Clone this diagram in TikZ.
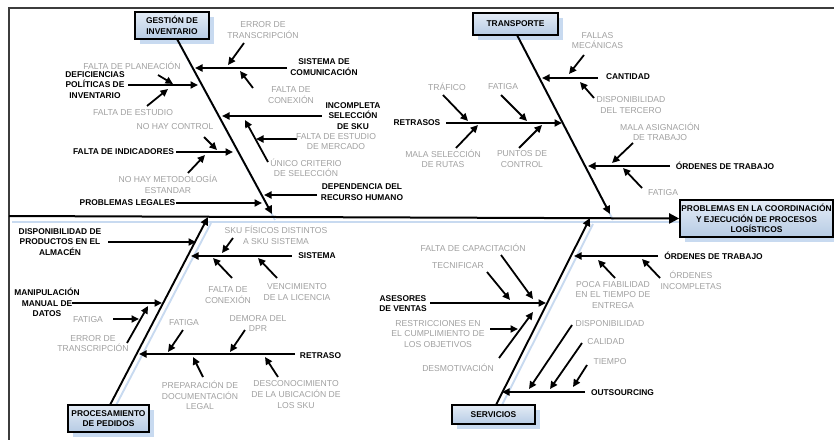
\documentclass[tikz,border=0pt]{standalone}
\usepackage{fontspec}
\setmainfont{Liberation Sans}
\usetikzlibrary{arrows.meta,calc,shadows}
\definecolor{txtgray}{RGB}{160,160,160}
\definecolor{shblue}{RGB}{200,218,240}
\definecolor{boxtop}{RGB}{228,236,246}
\definecolor{boxbot}{RGB}{182,203,228}
\definecolor{framegray}{RGB}{60,60,60}
\begin{document}
\begin{tikzpicture}[x=1pt,y=-1pt,
  lab/.style={inner sep=0pt, align=center, font=\fontsize{8.6}{10.6}\selectfont},
  blk/.style={lab, font=\fontsize{8.4}{10.6}\selectfont\bfseries},
  gry/.style={lab, text=txtgray},
  catbox/.style={draw=black, line width=1.6pt, top color=boxtop, bottom color=boxbot,
    inner sep=0pt, align=center, font=\fontsize{8.4}{10.6}\selectfont\bfseries,
    drop shadow={shadow xshift=5pt, shadow yshift=-5pt, fill=shblue, opacity=1}},
  bone/.style={line width=1.9pt, -{Triangle[length=8pt,width=7.5pt]}},
  spinearrow/.style={line width=2pt, -{Triangle[length=10pt,width=10pt]}},
  sub/.style={line width=1.8pt, -{Triangle[length=7.5pt,width=7pt]}},
  shline/.style={line width=1.9pt, draw=shblue}
]
\useasboundingbox (0,0) rectangle (834,439);
\clip (0,0) rectangle (834,439);

% frame
\draw[framegray, line width=1.3pt] (9,445) -- (9,8) -- (845,8);

% main coordinates
\coordinate (sp-s) at (9,216);
\coordinate (gi-s) at (177,39);   \coordinate (gi-e) at (272,214);
\coordinate (tr-s) at (517,35);   \coordinate (tr-e) at (610,214);
\coordinate (pp-s) at (110,405);  \coordinate (pp-e) at (208,217);
\coordinate (sv-s) at (496,405);  \coordinate (sv-e) at (590,218);

% shadows of spine and bones
\draw[shline] ($(sp-s)+(3,6)$) -- (683,222);
\foreach \b in {gi,tr,pp,sv}
  \draw[shline] ($(\b-s)+(3,6)$) -- ($(\b-e)+(3,6)$);

% boxes
\node[catbox, minimum width=74pt, minimum height=27pt] (gi) at (172,25.5) {GESTIÓN DE\\INVENTARIO};
\node[catbox, minimum width=85pt, minimum height=22pt] (tr) at (515.5,24) {TRANSPORTE};
\node[catbox, minimum width=81pt, minimum height=27pt] (pp) at (108.5,418.5) {PROCESAMIENTO\\DE PEDIDOS};
\node[catbox, minimum width=83pt, minimum height=19pt] (sv) at (493.5,414.5) {SERVICIOS};
\node[catbox, minimum width=153pt, minimum height=37pt] (head) at (756.5,218.5) {PROBLEMAS EN LA COORDINACIÓN\\Y EJECUCIÓN DE PROCESOS\\LOGÍSTICOS};

% spine and main bones
\draw[spinearrow] (sp-s) -- (head.west);
\foreach \b in {gi,tr,pp,sv}
  \draw[bone] (\b-s) -- (\b-e);

% sub arrows
\foreach \n/\xa/\ya/\xb/\yb in {
  def/128/85/198/85, plan/158/75/173/84, est/147/106/168/89,
  ind/176/152/233/152, noc/204/137/217/150, nom/188/173/205/155,
  leg/176/203/262/203, sis/287/68/195/68, err/244/43/228/65,
  con/253/88/240/71, inc/322/116/222/116, uni/268/162/245/120,
  mer/297/139/256/139, dep/317/195/264/195,
  ret/446/123/562/123, tra/443/95/468/121, fata/501/95/527/121,
  mal/456/148/478/125, pun/519/148/542/125, can/598/78/542/78,
  fal/584/55/569/74, dis/594/98/580/82, ord/670/166/588/166,
  asi/633/143/612/163, fatb/642/188/623/168,
  disp/108/242/196/242, man/72/303/162/303, errb/127/343/148/306,
  fatc/113/319/139/319, sist/292/256/191/256, sku/233/238/222/253,
  conb/232/278/213/258, ven/277/278/258/258, rtr/295/354/139/354,
  fatd/183/330/168/352, dem/245/330/230/352, pre/203/377/193/357,
  des/278/377/265/357,
  ase/430/303/546/303, cap/501/255/533/299, tec/487/272/510/300,
  dsm/499/358/533/312, res/490/329/518/329, ordb/658/256/574/256,
  poc/615/278/598/260, incb/660/278/642/259, out/585/392/502/392,
  dispo/572/325/529/389, cal/582/343/550/389, tie/587/365/573/387}
{
  \coordinate (\n-s) at (\xa,\ya);
  \coordinate (\n-e) at (\xb,\yb);
  \draw[sub] (\n-s) -- (\n-e);
}

% ---- labels: Gestion de inventario
\node[blk] (t-def) at (95,85) {DEFICIENCIAS\\POLÍTICAS DE\\INVENTARIO};
\node[gry] (t-plan) at (132,66) {FALTA DE PLANEACIÓN};
\node[gry] (t-est) at (133,113) {FALTA DE ESTUDIO};
\node[blk] (t-ind) at (123.5,152) {FALTA DE INDICADORES};
\node[gry] (t-noc) at (175,127) {NO HAY CONTROL};
\node[gry] (t-nom) at (168,184.5) {NO HAY METODOLOGÍA\\ESTANDAR};
\node[blk] (t-leg) at (127.5,203) {PROBLEMAS LEGALES};
\node[blk] (t-sis) at (324,67) {SISTEMA DE\\COMUNICACIÓN};
\node[gry] (t-err) at (263,30) {ERROR DE\\TRANSCRIPCIÓN};
\node[gry] (t-con) at (291,95) {FALTA DE\\CONEXIÓN};
\node[blk] (t-inc) at (353,116) {INCOMPLETA\\SELECCIÓN\\DE SKU};
\node[gry] (t-mer) at (336,141.5) {FALTA DE ESTUDIO\\DE MERCADO};
\node[gry] (t-uni) at (306,168) {ÚNICO CRITERIO\\DE SELECCIÓN};
\node[blk] (t-dep) at (362,192) {DEPENDENCIA DEL\\RECURSO HUMANO};

% ---- Transporte
\node[blk] (t-ret) at (417,123) {RETRASOS};
\node[gry] (t-tra) at (447,87) {TRÁFICO};
\node[gry] (t-fata) at (503,87) {FATIGA};
\node[gry] (t-mal) at (443,159) {MALA SELECCIÓN\\DE RUTAS};
\node[gry] (t-pun) at (522,159) {PUNTOS DE\\CONTROL};
\node[blk] (t-can) at (628,77) {CANTIDAD};
\node[gry] (t-fal) at (597.5,40.5) {FALLAS\\MECÁNICAS};
\node[gry] (t-dis) at (631,105) {DISPONIBILIDAD\\DEL TERCERO};
\node[blk] (t-ord) at (725,166) {ÓRDENES DE TRABAJO};
\node[gry] (t-asi) at (660,132) {MALA ASIGNACIÓN\\DE TRABAJO};
\node[gry] (t-fatb) at (663,193) {FATIGA};

% ---- Procesamiento de pedidos
\node[blk] (t-disp) at (60,242) {DISPONIBILIDAD DE\\PRODUCTOS EN EL\\ALMACÉN};
\node[blk] (t-man) at (47,302.5) {MANIPULACIÓN\\MANUAL DE\\DATOS};
\node[gry] (t-fatc) at (88,320) {FATIGA};
\node[gry] (t-errb) at (93,343.5) {ERROR DE\\TRANSCRIPCIÓN};
\node[blk] (t-sist) at (317,256) {SISTEMA};
\node[gry] (t-sku) at (276,235.5) {SKU FÍSICOS DISTINTOS\\A SKU SISTEMA};
\node[gry] (t-conb) at (228,295) {FALTA DE\\CONEXIÓN};
\node[gry] (t-ven) at (297,292) {VENCIMIENTO\\DE LA LICENCIA};
\node[blk] (t-rtr) at (320.5,356) {RETRASO};
\node[gry] (t-fatd) at (184,323) {FATIGA};
\node[gry] (t-dem) at (258,323.5) {DEMORA DEL\\DPR};
\node[gry] (t-pre) at (200,395.5) {PREPARACIÓN DE\\DOCUMENTACIÓN\\LEGAL};
\node[gry] (t-des) at (296,394.5) {DESCONOCIMIENTO\\DE LA UBICACIÓN DE\\LOS SKU};

% ---- Servicios
\node[blk] (t-ase) at (403,303.5) {ASESORES\\DE VENTAS};
\node[gry] (t-cap) at (473,248) {FALTA DE CAPACITACIÓN};
\node[gry] (t-tec) at (458,266) {TECNIFICAR};
\node[gry] (t-res) at (438,334) {RESTRICCIONES EN\\EL CUMPLIMIENTO DE\\LOS OBJETIVOS};
\node[gry] (t-dsm) at (458,368) {DESMOTIVACIÓN};
\node[blk] (t-ordb) at (713.5,256) {ÓRDENES DE TRABAJO};
\node[gry] (t-poc) at (613,295) {POCA FIABILIDAD\\EN EL TIEMPO DE\\ENTREGA};
\node[gry] (t-incb) at (691,280.5) {ÓRDENES\\INCOMPLETAS};
\node[blk] (t-out) at (622.5,393) {OUTSOURCING};
\node[gry] (t-dispo) at (610,324) {DISPONIBILIDAD};
\node[gry] (t-cal) at (606,342) {CALIDAD};
\node[gry] (t-tie) at (610,362) {TIEMPO};
\end{tikzpicture}
\end{document}
